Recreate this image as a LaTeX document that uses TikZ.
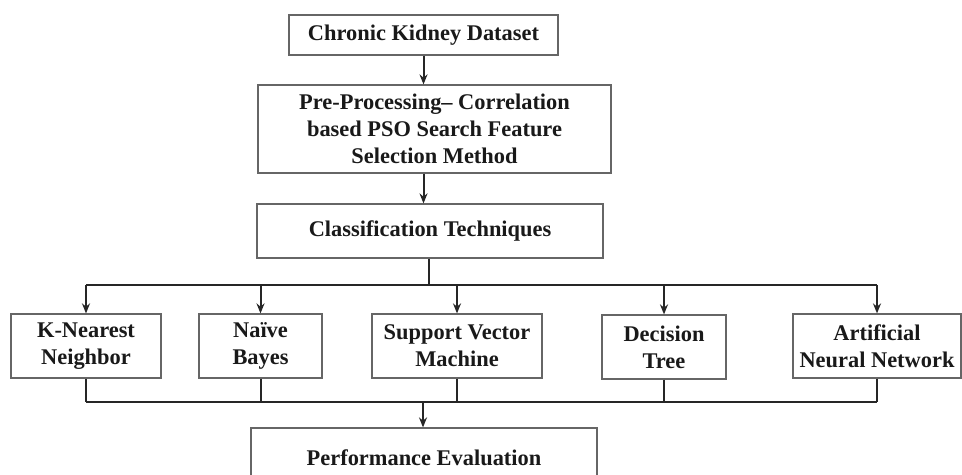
\documentclass[tikz,border=0pt]{standalone}
\usepackage{fontspec}
\setmainfont{Liberation Serif}
\usetikzlibrary{arrows.meta, positioning}
\tikzset{
    % Stage of the pipeline - plain gray-framed box
    stage box/.style={rectangle, draw=black!60, line width=0.6pt, fill=white,
        align=center, inner sep=2pt, text=black!90,
        font=\fontsize{11.2}{13.5}\selectfont\bfseries},
    % Classifier box in the bottom row
    method box/.style={stage box, minimum height=32pt},
    % Connectors - dark lines with small filled tips
    flow line/.style={line width=1pt, black!85},
    flow arrow/.style={flow line, -{Stealth[length=5pt, width=4pt]}}
}

\begin{document}
\begin{tikzpicture}[x=0.5pt, y=-0.5pt]
    \useasboundingbox (0,0) rectangle (962,475);

    % --- Main pipeline ---
    \node[stage box, minimum width=134.5pt, minimum height=20pt] (data) at (423.5,35)
        {Chronic Kidney Dataset};
    \node[stage box, minimum width=176.5pt, minimum height=44pt] (prep) at (434.5,129)
        {Pre-Processing-- Correlation\\ based PSO Search Feature\\ Selection Method};
    \node[stage box, minimum width=173pt, minimum height=27pt] (clas) at (430,231)
        {Classification Techniques};

    % --- Classifiers ---
    \node[method box, minimum width=75pt] (knn) at (86,346) {K-Nearest\\ Neighbor};
    \node[method box, minimum width=61.5pt] (nb) at (260.5,346) {Naïve\\ Bayes};
    \node[method box, minimum width=85pt] (svm) at (457,346) {Support Vector\\ Machine};
    \node[method box, minimum width=62pt] (dt) at (664,347) {Decision\\ Tree};
    \node[method box, minimum width=84pt] (ann) at (877,346) {Artificial\\ Neural Network};

    % --- Evaluation ---
    \node[stage box, minimum width=173pt, minimum height=30pt] (perf) at (424,458)
        {Performance Evaluation};

    % --- Bus lines ---
    \coordinate (split) at (429,285);
    \coordinate (join) at (423,402);

    % --- Connectors ---
    \draw[flow arrow] (data.south) -- (data.south |- prep.north);
    \draw[flow arrow] (data.south |- prep.south) -- (data.south |- clas.north);
    \draw[flow line] (split |- clas.south) -- (split);
    \draw[flow line] (knn.north |- split) -- (ann.north |- split);
    \foreach \m in {knn, nb, svm, dt, ann}
        \draw[flow arrow] (\m.north |- split) -- (\m.north);
    \foreach \m in {knn, nb, svm, dt, ann}
        \draw[flow line] (\m.south) -- (\m.south |- join);
    \draw[flow line] (knn.south |- join) -- (ann.south |- join);
    \draw[flow arrow] (join) -- (join |- perf.north);

\end{tikzpicture}
\end{document}
